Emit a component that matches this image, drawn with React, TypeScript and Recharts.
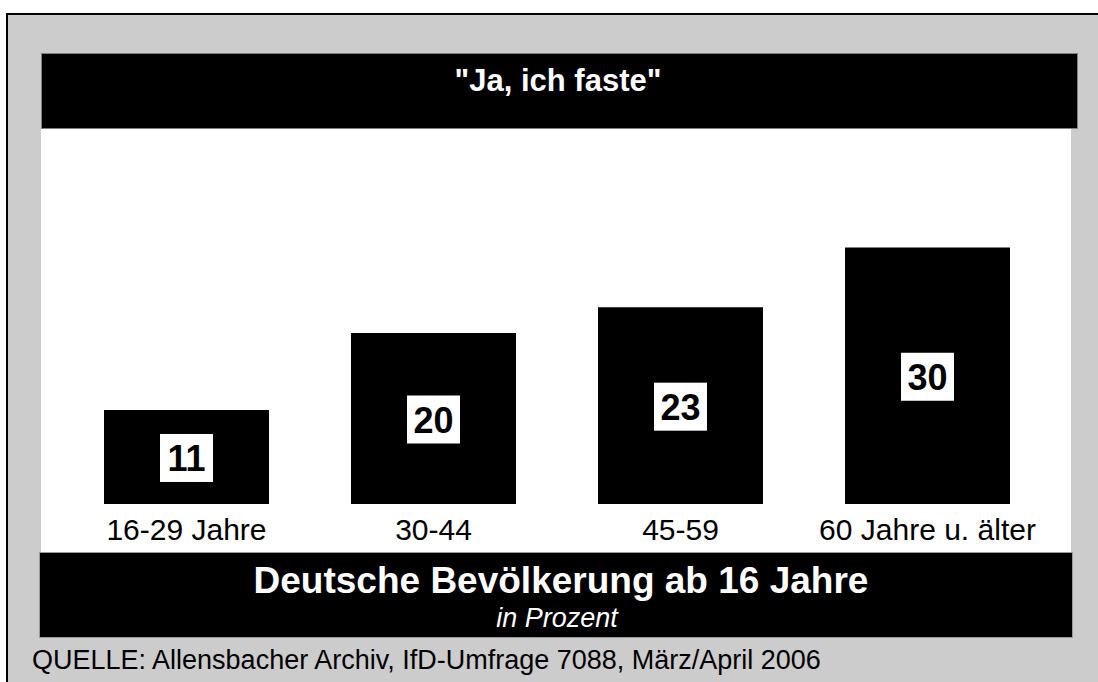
import React from "react";
import { BarChart, Bar, XAxis, YAxis, LabelList } from "recharts";

const categories = ["16-29 Jahre", "30-44", "45-59", "60 Jahre u. älter"];
const values = [11, 20, 23, 30];
const title = "\"Ja, ich faste\"";
const subtitle = "Deutsche Bevölkerung ab 16 Jahre";
const unitText = "in Prozent";
const sourceText = "QUELLE: Allensbacher Archiv, IfD-Umfrage 7088, März/April 2006";

const data = categories.map((c, i) => ({ name: c, value: values[i] }));

const FONT = "'Liberation Sans', Arial, Helvetica, sans-serif";

const CategoryTick = (props: any) => {
  const { x, y, payload } = props;
  return (
    <text x={x} y={y + 36} textAnchor="middle" fontFamily={FONT} fontSize={30} fill="#000">
      {payload.value}
    </text>
  );
};

const ValueLabel = (props: any) => {
  const { x, y, width, height, value } = props;
  const cx = Number(x) + Number(width) / 2;
  const cy = Number(y) + Number(height) / 2 + 1;
  const bw = 53;
  const bh = 48;
  return (
    <g>
      <rect x={cx - bw / 2} y={cy - bh / 2} width={bw} height={bh} fill="#fff" />
      <text x={cx} y={cy + 13} textAnchor="middle" fontFamily={FONT} fontWeight="bold" fontSize={36} fill="#000">
        {value}
      </text>
    </g>
  );
};

export default function App() {
  return (
    <div style={{ position: "absolute", left: 0, top: 0, width: 1098, height: 682, overflow: "hidden", background: "#fff" }}>
      <svg width={1098} height={682} style={{ position: "absolute", left: 0, top: 0 }}>
        <rect x={7} y={14} width={1200} height={800} fill="#cccccc" stroke="#000" strokeWidth={2} />
        <rect x={41} y={128} width={1030} height={424} fill="#fff" />
        <rect x={41.5} y={53.5} width={1036} height={75} fill="#000" stroke="#808080" strokeWidth={1} />
        <rect x={39.5} y={552.5} width={1033} height={85} fill="#000" stroke="#9a9a9a" strokeWidth={1} />
        <text x={558} y={91} textAnchor="middle" fontFamily={FONT} fontWeight="bold" fontSize={31} fill="#fff">
          {title}
        </text>
        <text x={561} y={593} textAnchor="middle" fontFamily={FONT} fontWeight="bold" fontSize={37} fill="#fff">
          {subtitle}
        </text>
        <text x={557} y={627} textAnchor="middle" fontFamily={FONT} fontStyle="italic" fontSize={27} fill="#fff">
          {unitText}
        </text>
        <text x={32} y={669} fontFamily={FONT} fontSize={27} fill="#000">
          {sourceText}
        </text>
      </svg>
      <div style={{ position: "absolute", left: 0, top: 0 }}>
        <BarChart
          width={1098}
          height={682}
          data={data}
          margin={{ top: 162, right: 47, bottom: 138, left: 63 }}
          style={{ background: "transparent" }}
        >
          <XAxis
            dataKey="name"
            axisLine={false}
            tickLine={false}
            tickSize={0}
            tickMargin={0}
            height={40}
            interval={0}
            tick={<CategoryTick />}
          />
          <YAxis hide domain={[0, 40]} />
          <Bar dataKey="value" fill="#000" barSize={165} isAnimationActive={false}>
            <LabelList dataKey="value" content={<ValueLabel />} />
          </Bar>
        </BarChart>
      </div>
    </div>
  );
}
